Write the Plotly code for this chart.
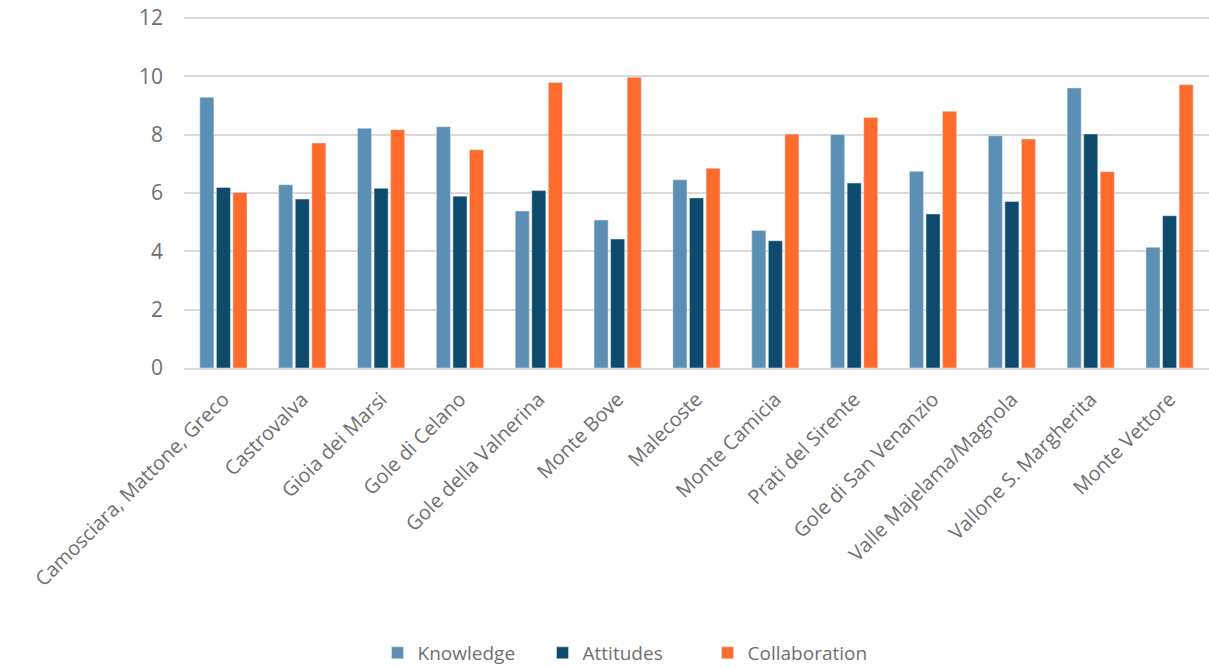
import plotly.graph_objects as go

categories = ["Camosciara, Mattone, Greco", "Castrovalva", "Gioia dei Marsi", "Gole di Celano",
              "Gole della Valnerina", "Monte Bove", "Malecoste", "Monte Camicia",
              "Prati del Sirente", "Gole di San Venanzio", "Valle Majelama/Magnola",
              "Vallone S. Margherita", "Monte Vettore"]
knowledge = [9.28, 6.28, 8.22, 8.27, 5.38, 5.07, 6.45, 4.71, 8.0, 6.74, 7.96, 9.6, 4.14]
attitudes = [6.19, 5.79, 6.16, 5.89, 6.08, 4.42, 5.83, 4.36, 6.34, 5.28, 5.71, 8.02, 5.22]
collaboration = [6.02, 7.71, 8.17, 7.48, 9.79, 9.97, 6.85, 8.02, 8.59, 8.80, 7.85, 6.73, 9.71]
y_ticks = [0, 2, 4, 6, 8, 10, 12]

fig = go.Figure()
fig.add_trace(go.Bar(name="Knowledge", x=categories, y=knowledge, marker_color="#5B8FB3"))
fig.add_trace(go.Bar(name="Attitudes", x=categories, y=attitudes, marker_color="#0D4A6B"))
fig.add_trace(go.Bar(name="Collaboration", x=categories, y=collaboration, marker_color="#FF6B2C"))

font_family = "Open Sans, Liberation Sans, sans-serif"
text_color = "#707070"
fig.update_layout(
    width=1209, height=667,
    barmode="group", bargap=0.37, bargroupgap=0.15,
    plot_bgcolor="white", paper_bgcolor="white",
    margin=dict(l=184, r=0, t=15.4, b=298.7, autoexpand=False),
    font=dict(family=font_family, color=text_color, size=20),
    legend=dict(orientation="h", xref="container", yref="container",
                x=0.517, y=0.021, xanchor="center", yanchor="middle",
                font=dict(size=19, color=text_color), traceorder="normal",
                itemwidth=30, entrywidth=120, entrywidthmode="pixels"),
    xaxis=dict(tickangle=-45, showgrid=False, showline=True, linecolor="#d9d9d9",
               linewidth=1.5, ticks="", ticklabelstandoff=10,
               tickfont=dict(size=20, color=text_color)),
    yaxis=dict(range=[0, 12.1], tickvals=y_ticks, showgrid=True, gridcolor="#d9d9d9",
               gridwidth=1.5, zeroline=False, showline=False, ticks="",
               ticklabelstandoff=20, ticklabeloverflow="allow",
               tickfont=dict(size=21, color=text_color)),
)
fig.write_html("out.html", config={"displayModeBar": False},
               post_script="document.body.style.margin='0';")
